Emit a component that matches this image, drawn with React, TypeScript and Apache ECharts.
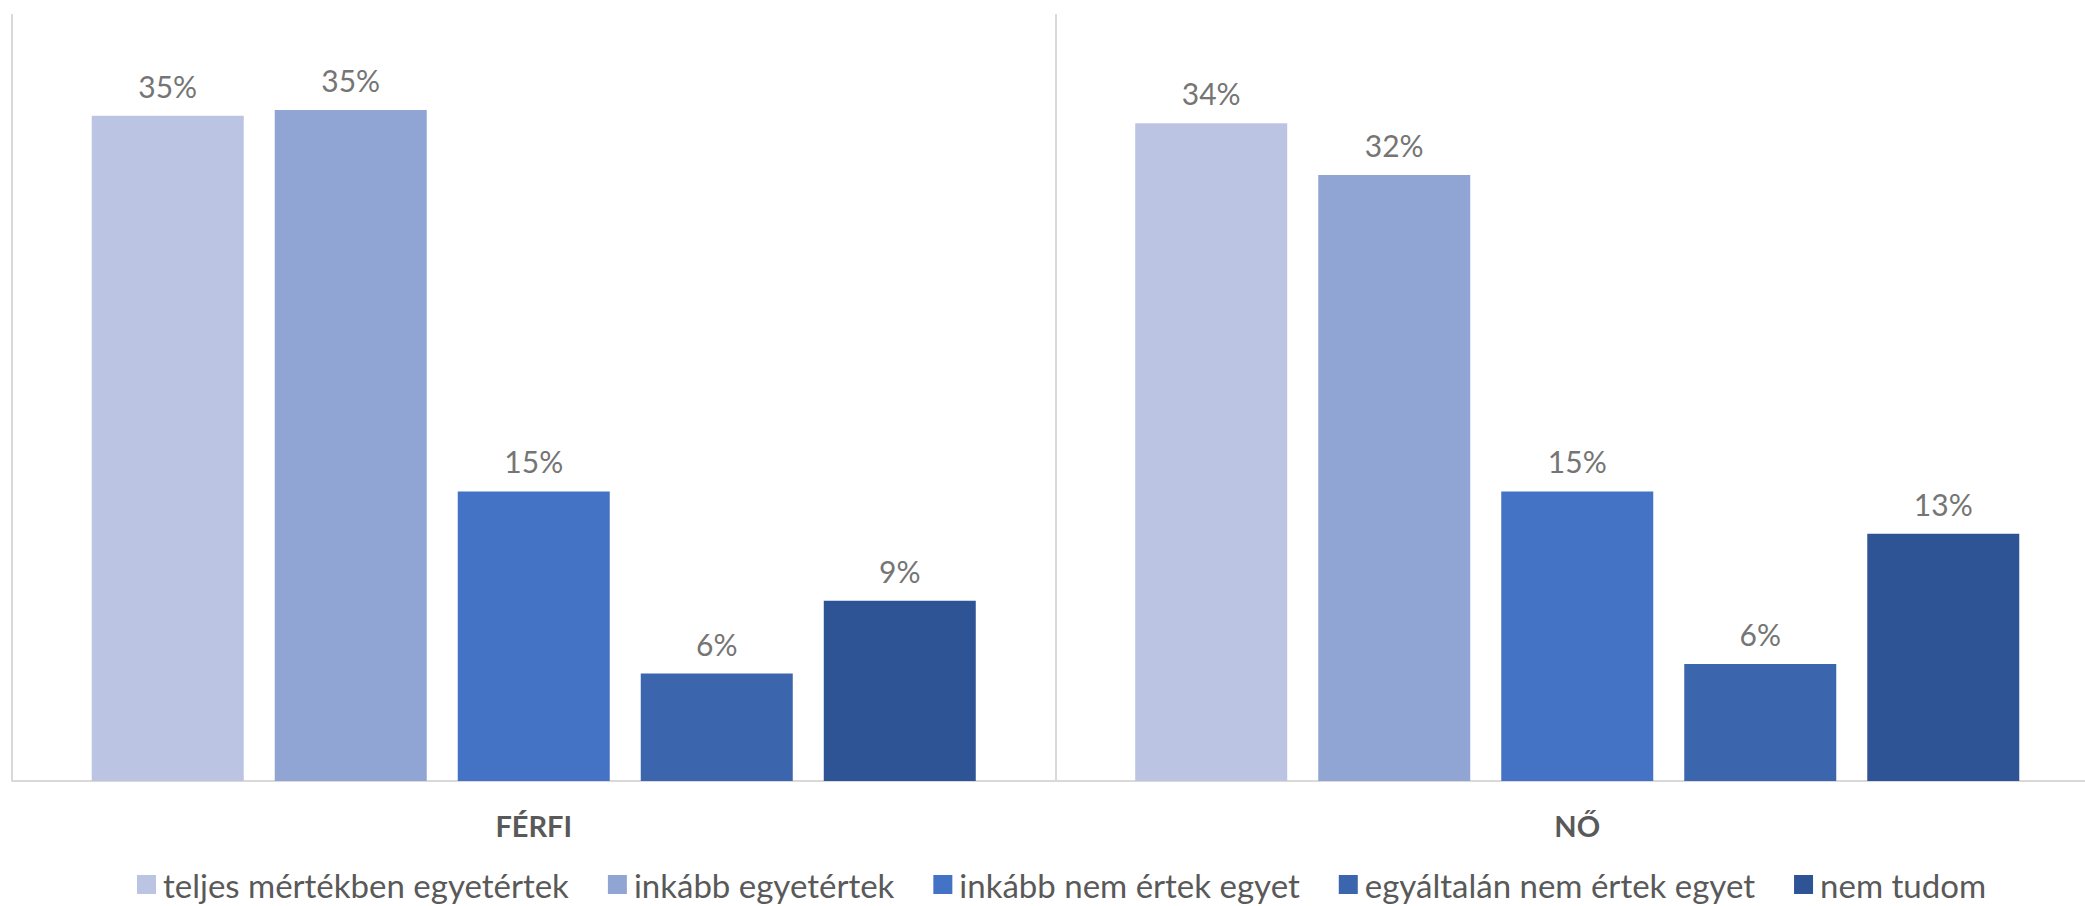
import React, { useEffect, useRef } from "react";
import * as echarts from "echarts";

const categories = ["FÉRFI", "NŐ"];
const seriesNames = [
  "teljes mértékben egyetértek",
  "inkább egyetértek",
  "inkább nem értek egyet",
  "egyáltalán nem értek egyet",
  "nem tudom",
];
const teljes = [34.7, 34.3];
const inkabb = [35.0, 31.6];
const inkabbNem = [15.1, 15.1];
const egyaltalan = [5.6, 6.1];
const nemTudom = [9.4, 12.9];
const seriesValues = [teljes, inkabb, inkabbNem, egyaltalan, nemTudom];
const colors = ["#BBC5E3", "#91A5D5", "#4472C4", "#3B65AD", "#2F5496"];
const FONT = "Lato";

export default function App() {
  const ref = useRef<HTMLDivElement>(null);
  useEffect(() => {
    if (!ref.current) return;
    const chart = echarts.init(ref.current, undefined, { renderer: "svg" });
    chart.setOption({
      animation: false,
      backgroundColor: "#ffffff",
      textStyle: { fontFamily: FONT },
      grid: { left: 12, right: 1, top: 14, bottom: 125, containLabel: false },
      legend: {
        data: seriesNames,
        left: 132,
        bottom: 0,
        itemWidth: 19,
        itemHeight: 19,
        itemGap: 39,
        icon: "rect",
        textStyle: { fontFamily: FONT, fontSize: 33, color: "#595959", padding: [0, 0, 0, 2] },
      },
      xAxis: {
        type: "category",
        data: categories,
        axisLine: { show: true, lineStyle: { color: "#D9D9D9", width: 2 } },
        axisTick: { show: false },
        splitLine: { show: true, lineStyle: { color: "#D9D9D9", width: 2 } },
        axisLabel: {
          margin: 30,
          fontFamily: FONT,
          fontSize: 29,
          fontWeight: "bold",
          color: "#595959",
        },
      },
      yAxis: {
        type: "value",
        min: 0,
        max: 40,
        show: false,
        splitLine: { show: false },
      },
      series: seriesNames.map((name, i) => ({
        name,
        type: "bar",
        data: seriesValues[i],
        barWidth: 152,
        barGap: "20.4%",
        itemStyle: { color: colors[i] },
        label: {
          show: true,
          position: "top",
          distance: 15,
          fontFamily: FONT,
          fontSize: 30,
          color: "#757575",
          formatter: (p: any) => `${Math.round(p.value)}%`,
        },
      })),
    });
    return () => chart.dispose();
  }, []);
  return (
    <div
      style={{
        position: "fixed",
        left: 0,
        top: 0,
        width: 2085,
        height: 906,
        overflow: "hidden",
        background: "#ffffff",
      }}
    >
      <div ref={ref} style={{ width: 2100, height: 906 }} />
    </div>
  );
}
